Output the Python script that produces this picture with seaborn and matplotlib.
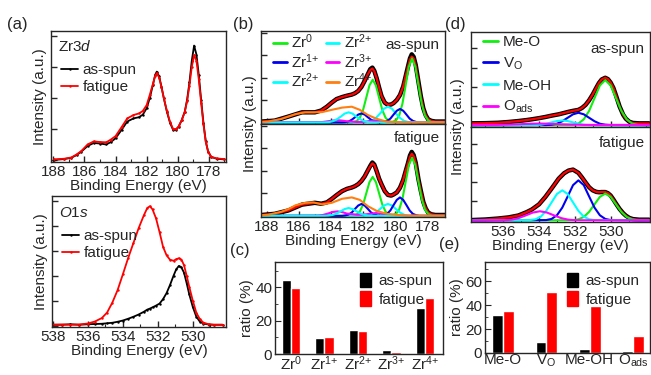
import matplotlib
matplotlib.use('Agg')
import matplotlib.pyplot as plt
from matplotlib.lines import Line2D
from matplotlib.patches import Patch
from matplotlib.ticker import MultipleLocator, FixedLocator
import seaborn as sns
import pandas as pd

sns.set_style('ticks')
plt.rcParams['font.family'] = ['Liberation Sans', 'DejaVu Sans']
plt.rcParams['mathtext.fontset'] = 'custom'
plt.rcParams['mathtext.rm'] = 'Liberation Sans'
plt.rcParams['mathtext.it'] = 'Liberation Sans:italic'
plt.rcParams['font.size'] = 11
plt.rcParams['axes.linewidth'] = 1.0

GREEN = '#11ee11'
BLUE = '#0000ee'
CYAN = '#00ffff'
MAGENTA = '#ff00ff'
ORANGE = '#ff7f10'

# ---- (a) top: Zr 3d raw spectra
zr_e = [187.95, 187.3, 186.85, 186.5, 186.2, 185.8, 185.4, 185.0, 184.6, 184.3,
        184.0, 183.6, 183.25, 182.85, 182.5, 182.25, 182.0, 181.8, 181.6, 181.45,
        181.35, 181.2, 181.05, 180.9, 180.7, 180.5, 180.3, 180.1, 179.95, 179.75,
        179.55, 179.4, 179.25, 179.1, 178.95, 178.8, 178.65, 178.5, 178.35, 178.2,
        178.05, 177.85, 177.5, 177.05]
zr_asspun = [0.0, 0.03, 0.07, 0.16, 0.27, 0.45, 0.55, 0.53, 0.5, 0.58,
             0.7, 0.98, 1.24, 1.34, 1.38, 1.46, 1.67, 2.0, 2.42, 2.75,
             2.85, 2.7, 2.37, 2.0, 1.56, 1.2, 0.97, 0.98, 1.07, 1.28,
             1.56, 1.95, 2.5, 3.2, 3.69, 3.4, 2.74, 1.95, 1.2, 0.6,
             0.27, 0.1, 0.04, 0.02]
zr_fatigue = [0.02, 0.04, 0.08, 0.18, 0.29, 0.5, 0.6, 0.58, 0.57, 0.66,
              0.77, 1.07, 1.34, 1.45, 1.5, 1.58, 1.77, 2.1, 2.45, 2.72,
              2.8, 2.66, 2.35, 2.0, 1.58, 1.23, 1.0, 1.0, 1.08, 1.28,
              1.55, 1.9, 2.4, 3.0, 3.39, 3.2, 2.6, 1.85, 1.15, 0.58,
              0.27, 0.1, 0.05, 0.03]

# ---- (a) bottom: O 1s raw spectra
o_e = [538.1, 537.5, 537.0, 536.5, 536.0, 535.6, 535.2, 534.9, 534.6, 534.3,
       534.0, 533.7, 533.4, 533.1, 532.8, 532.6, 532.45, 532.3, 532.1, 531.9,
       531.7, 531.5, 531.3, 531.1, 530.95, 530.8, 530.65, 530.5, 530.35, 530.2,
       530.0, 529.8, 529.6, 529.4, 529.1, 528.8, 528.3]
o_asspun = [0.03, 0.03, 0.05, 0.03, 0.05, 0.06, 0.07, 0.09, 0.11, 0.15,
            0.2, 0.27, 0.35, 0.44, 0.55, 0.64, 0.68, 0.73, 0.8, 0.88,
            1.06, 1.3, 1.63, 2.0, 2.25, 2.39, 2.33, 2.12, 1.7, 1.25,
            0.75, 0.36, 0.16, 0.08, 0.04, 0.03, 0.03]
o_fatigue = [0.03, 0.04, 0.03, 0.04, 0.08, 0.16, 0.3, 0.52, 0.92, 1.42,
             2.05, 2.7, 3.3, 3.9, 4.42, 4.72, 4.79, 4.66, 4.3, 3.75,
             3.16, 2.82, 2.64, 2.6, 2.66, 2.7, 2.65, 2.42, 2.0, 1.55,
             1.0, 0.52, 0.26, 0.12, 0.05, 0.03, 0.03]

# ---- (b) Zr 3d fits: data / envelope
zfit_e = [188.3, 187.5, 186.65, 185.8, 185.0, 184.6, 184.25, 183.95, 183.65, 183.3,
          183.0, 182.7, 182.5, 182.3, 182.1, 181.9, 181.7, 181.55, 181.42, 181.3,
          181.15, 181.0, 180.85, 180.65, 180.45, 180.25, 180.1, 179.9, 179.7, 179.5,
          179.35, 179.2, 179.08, 178.97, 178.85, 178.72, 178.55, 178.4, 178.25, 178.1,
          177.95, 177.75, 177.5, 176.9]
zfit_as_data = [0.04, 0.08, 0.26, 0.45, 0.45, 0.53, 0.7, 0.88, 1.04, 1.13,
                1.19, 1.24, 1.3, 1.4, 1.58, 1.85, 2.15, 2.37, 2.44, 2.3,
                1.96, 1.55, 1.17, 0.88, 0.78, 0.8, 0.86, 1.0, 1.22, 1.6,
                2.05, 2.5, 2.85, 3.03, 2.92, 2.55, 1.8, 1.15, 0.63, 0.32,
                0.14, 0.07, 0.04, 0.04]
zfit_as_env = [0.04, 0.08, 0.26, 0.45, 0.45, 0.53, 0.7, 0.88, 1.04, 1.13,
               1.19, 1.24, 1.3, 1.4, 1.58, 1.85, 2.15, 2.33, 2.4, 2.28,
               1.96, 1.55, 1.17, 0.88, 0.78, 0.8, 0.86, 1.0, 1.22, 1.6,
               2.05, 2.48, 2.8, 2.93, 2.85, 2.52, 1.8, 1.15, 0.63, 0.32,
               0.14, 0.07, 0.04, 0.04]
zfit_fa_data = [0.04, 0.09, 0.24, 0.5, 0.58, 0.54, 0.6, 0.75, 0.92, 1.1,
                1.2, 1.26, 1.32, 1.41, 1.55, 1.75, 2.02, 2.22, 2.37, 2.28,
                1.98, 1.65, 1.4, 1.1, 0.93, 0.9, 0.95, 1.04, 1.25, 1.6,
                1.98, 2.35, 2.68, 2.84, 2.7, 2.35, 1.62, 1.1, 0.62, 0.33,
                0.15, 0.07, 0.04, 0.04]
zfit_fa_env = [0.04, 0.09, 0.24, 0.5, 0.58, 0.54, 0.6, 0.75, 0.92, 1.1,
               1.2, 1.26, 1.32, 1.41, 1.55, 1.75, 2.02, 2.2, 2.33, 2.26,
               1.98, 1.65, 1.4, 1.1, 0.93, 0.9, 0.95, 1.04, 1.25, 1.6,
               1.98, 2.33, 2.62, 2.76, 2.65, 2.33, 1.62, 1.1, 0.62, 0.33,
               0.15, 0.07, 0.04, 0.04]

# ---- (b) Zr 3d fit components
zr0_e = [176.9, 177.7, 177.95, 178.15, 178.35, 178.55, 178.75, 178.95, 179.15, 179.35,
         179.55, 179.75, 179.95, 180.2, 180.4, 180.6, 180.8, 181.0, 181.2, 181.4,
         181.6, 181.8, 182.0, 182.2, 182.4, 182.7, 188.35]
zr0_as = [0, 0, 0.09, 0.31, 0.83, 1.65, 2.48, 2.85, 2.48, 1.65,
          0.83, 0.31, 0.09, 0.02, 0.06, 0.21, 0.55, 1.1, 1.65, 1.9,
          1.65, 1.1, 0.55, 0.21, 0.06, 0, 0]
zr0_fa = [0, 0, 0.09, 0.28, 0.75, 1.5, 2.25, 2.59, 2.25, 1.5,
          0.75, 0.28, 0.09, 0.02, 0.06, 0.19, 0.5, 1.0, 1.5, 1.73,
          1.5, 1.0, 0.5, 0.19, 0.06, 0, 0]
zr1_e = [176.9, 178.5, 178.7, 178.9, 179.1, 179.3, 179.5, 179.7, 179.9, 180.1,
         180.3, 180.5, 180.7, 180.9, 181.1, 181.3, 181.5, 181.7, 181.9, 182.1,
         182.3, 182.5, 182.7, 182.9, 183.1, 183.3, 188.35]
zr1_as = [0, 0, 0.02, 0.07, 0.17, 0.35, 0.52, 0.6, 0.52, 0.35,
          0.17, 0.07, 0.02, 0.01, 0.01, 0.04, 0.12, 0.23, 0.35, 0.4,
          0.35, 0.23, 0.12, 0.04, 0.01, 0, 0]
zr1_fa = [0, 0, 0.03, 0.09, 0.24, 0.48, 0.71, 0.82, 0.71, 0.48,
          0.24, 0.09, 0.03, 0.01, 0.02, 0.06, 0.15, 0.31, 0.46, 0.53,
          0.46, 0.31, 0.15, 0.06, 0.02, 0, 0]
zr2a_e = [176.9, 178.95, 179.2, 179.45, 179.7, 179.95, 180.2, 180.45, 180.7, 180.95,
          181.2, 181.45, 181.7, 181.95, 188.35]
zr2a_as = [0, 0, 0.02, 0.07, 0.2, 0.39, 0.61, 0.7, 0.61, 0.39, 0.2, 0.07, 0.02, 0, 0]
zr2a_fa = [0, 0, 0.01, 0.05, 0.15, 0.3, 0.46, 0.53, 0.46, 0.3, 0.15, 0.05, 0.01, 0, 0]
zr2b_e = [176.9, 181.4, 181.65, 181.9, 182.15, 182.4, 182.65, 182.9, 183.15, 183.4,
          183.65, 183.9, 184.15, 184.4, 188.35]
zr2b_as = [0, 0, 0.01, 0.05, 0.13, 0.25, 0.39, 0.45, 0.39, 0.25, 0.13, 0.05, 0.01, 0, 0]
zr2b_fa = [0, 0, 0.01, 0.04, 0.1, 0.2, 0.3, 0.35, 0.3, 0.2, 0.1, 0.04, 0.01, 0, 0]
zr3_e = [176.9, 180.0, 180.3, 180.6, 180.9, 181.2, 181.5, 181.8, 182.1, 182.4,
         182.7, 183.0, 183.3, 183.6, 183.9, 184.2, 184.5, 184.8, 188.35]
zr3_as = [0, 0.01, 0.02, 0.04, 0.07, 0.08, 0.07, 0.04, 0.02, 0.02,
          0.04, 0.05, 0.08, 0.1, 0.08, 0.05, 0.02, 0.01, 0]
zr3_fa = [0, 0.01, 0.03, 0.06, 0.1, 0.12, 0.1, 0.07, 0.05, 0.05,
          0.08, 0.1, 0.17, 0.2, 0.17, 0.1, 0.04, 0.01, 0]
zr4_e = [176.9, 179.3, 179.8, 180.5, 181.15, 181.7, 182.2, 182.7, 183.3, 183.95,
         184.55, 185.1, 185.6, 186.2, 186.65, 187.1, 187.9, 188.35]
zr4_as = [0, 0, 0.01, 0.03, 0.16, 0.33, 0.56, 0.7, 0.66, 0.56,
          0.46, 0.45, 0.45, 0.37, 0.26, 0.15, 0.04, 0.02]
zr4_fa = [0, 0.01, 0.04, 0.09, 0.22, 0.43, 0.71, 0.82, 0.76, 0.58,
          0.51, 0.6, 0.58, 0.47, 0.3, 0.18, 0.05, 0.03]

# ---- (d) O 1s fits: data / envelope
ofit_e = [537.8, 537.0, 536.3, 535.7, 535.15, 534.7, 534.4, 534.0, 533.65, 533.3,
          532.9, 532.6, 532.35, 532.1, 531.8, 531.6, 531.4, 531.2, 531.0, 530.8,
          530.65, 530.5, 530.3, 530.15, 530.0, 529.85, 529.7, 529.5, 529.3, 529.15,
          528.95, 528.75, 528.4, 527.85]
ofit_as = [0.1, 0.11, 0.13, 0.17, 0.22, 0.27, 0.31, 0.37, 0.43, 0.5,
           0.57, 0.64, 0.7, 0.75, 0.8, 0.9, 1.06, 1.3, 1.6, 1.95,
           2.2, 2.38, 2.47, 2.4, 2.22, 1.95, 1.55, 0.98, 0.55, 0.34,
           0.18, 0.12, 0.1, 0.1]
ofit_fa = [0.02, 0.05, 0.1, 0.16, 0.26, 0.43, 0.57, 0.84, 1.22, 1.66,
           2.18, 2.46, 2.6, 2.65, 2.48, 2.24, 1.98, 1.73, 1.57, 1.49,
           1.47, 1.48, 1.48, 1.42, 1.3, 1.1, 0.88, 0.6, 0.38, 0.25,
           0.13, 0.07, 0.04, 0.04]

# ---- (d) O 1s fit components
meo_e = [527.85, 528.5, 528.8, 529.1, 529.4, 529.7, 530.0, 530.3, 530.6, 530.9,
         531.2, 531.5, 531.8, 532.1, 537.8]
meo_as = [0, 0.02, 0.09, 0.31, 0.75, 1.41, 2.07, 2.35, 2.07, 1.41, 0.75, 0.31, 0.09, 0.02, 0]
meo_fa = [0, 0.01, 0.06, 0.18, 0.45, 0.84, 1.23, 1.4, 1.23, 0.84, 0.45, 0.18, 0.06, 0.01, 0]
vo_e = [527.85, 530.0, 530.3, 530.6, 530.9, 531.2, 531.5, 531.8, 532.1, 532.4,
        532.7, 533.0, 533.3, 533.6, 537.8]
vo_as = [0, 0.01, 0.03, 0.08, 0.21, 0.39, 0.57, 0.65, 0.57, 0.39, 0.21, 0.08, 0.03, 0.01, 0]
vo_fa = [0, 0.02, 0.08, 0.27, 0.67, 1.25, 1.84, 2.09, 1.84, 1.25, 0.67, 0.27, 0.08, 0.02, 0]
meoh_e = [527.85, 530.9, 531.2, 531.5, 531.8, 532.1, 532.4, 532.7, 533.0, 533.3,
          533.6, 533.9, 534.2, 534.5, 537.8]
meoh_as = [0, 0, 0.01, 0.03, 0.08, 0.15, 0.22, 0.25, 0.22, 0.15, 0.08, 0.03, 0.01, 0, 0]
meoh_fa = [0, 0.02, 0.06, 0.2, 0.5, 0.94, 1.38, 1.57, 1.38, 0.94, 0.5, 0.2, 0.06, 0.02, 0]
oads_e = [527.85, 531.55, 531.95, 532.35, 532.75, 533.15, 533.55, 533.95, 534.35, 534.75,
          535.15, 535.55, 535.95, 536.35, 537.8]
oads_as = [0.02, 0.02, 0.03, 0.04, 0.05, 0.07, 0.08, 0.09, 0.08, 0.07, 0.05, 0.04, 0.03, 0.02, 0.02]
oads_fa = [0, 0.01, 0.01, 0.04, 0.12, 0.26, 0.41, 0.48, 0.41, 0.26, 0.12, 0.04, 0.01, 0, 0]

# ---- (c) / (e) ratios
zr_states = ['Zr$^{0}$', 'Zr$^{1{+}}$', 'Zr$^{2{+}}$', 'Zr$^{3{+}}$', 'Zr$^{4{+}}$']
zr_ratio_as = [44.5, 9.5, 14.4, 2.6, 27.5]
zr_ratio_fa = [39.6, 10.3, 13.8, 1.4, 33.4]
o_states = ['Me-O', 'V$_{\\mathrm{O}}$', 'Me-OH', 'O$_{\\mathrm{ads}}$']
o_ratio_as = [31.9, 8.9, 3.6, 1.9]
o_ratio_fa = [35.3, 50.6, 38.9, 13.9]

W, H = 651, 375
fig = plt.figure(figsize=(W / 100, H / 100), dpi=100)


def box(l, t, r, b):
    return fig.add_axes([l / W, 1 - b / H, (r - l) / W, (b - t) / H])


def curve(ax, e, i, color, lw=1.3, **kw):
    sns.lineplot(x=e, y=i, ax=ax, color=color, lw=lw, sort=False,
                 estimator=None, legend=False, **kw)


def spec_axes(ax, xlim, ylim, ticks, show_x=True):
    ax.set_xlim(*xlim)
    ax.set_ylim(*ylim)
    ax.xaxis.set_major_locator(FixedLocator(ticks))
    ax.xaxis.set_minor_locator(MultipleLocator(1))
    ax.yaxis.set_major_locator(MultipleLocator(1))
    ax.tick_params(which='both', direction='in', top=False, right=False,
                   labelleft=False, labelbottom=show_x, labelsize=11, pad=2)
    ax.tick_params(which='major', length=4, width=1)
    ax.tick_params(which='minor', length=2, width=0.8)
    ax.set_xlabel('')
    ax.set_ylabel('')


zr_ticks = [188, 186, 184, 182, 180, 178]
dots = dict(marker='.', markersize=3.5, markeredgewidth=0)
raw_handles = [Line2D([], [], color='black', lw=1.3, **dots),
               Line2D([], [], color='red', lw=1.3, **dots)]

# (a) top
ax = box(51, 31, 226, 162)
curve(ax, zr_e, zr_asspun, 'black', **dots)
curve(ax, zr_e, zr_fatigue, 'red', **dots)
spec_axes(ax, (188.15, 176.9), (-0.065, 4.16), zr_ticks)
ax.set_xlabel('Binding Energy (eV)', labelpad=0)
ax.set_ylabel('Intensity (a.u.)', labelpad=3)
ax.text(0.04, 0.94, 'Zr$\\mathit{3d}$', transform=ax.transAxes, ha='left', va='top', fontsize=11)
ax.legend(raw_handles, ['as-spun', 'fatigue'], loc='upper left', bbox_to_anchor=(-0.02, 0.86),
          frameon=False, handlelength=1.1, handletextpad=0.3, labelspacing=0.2, fontsize=11)

# (a) bottom
ax = box(52, 196, 226, 327)
curve(ax, o_e, o_asspun, 'black', **dots)
curve(ax, o_e, o_fatigue, 'red', **dots)
spec_axes(ax, (538.05, 528.1), (-0.06, 5.2), [538, 536, 534, 532, 530])
ax.set_xlabel('Binding Energy (eV)', labelpad=0)
ax.set_ylabel('Intensity (a.u.)', labelpad=3)
ax.text(0.04, 0.92, '$\\mathit{O1s}$', transform=ax.transAxes, ha='left', va='top', fontsize=11)
ax.legend(raw_handles, ['as-spun', 'fatigue'], loc='upper left', bbox_to_anchor=(-0.02, 0.85),
          frameon=False, handlelength=1.1, handletextpad=0.3, labelspacing=0.2, fontsize=11)

# (b) Zr 3d fits
zr_comp = [(zr0_e, zr0_as, zr0_fa, GREEN), (zr2a_e, zr2a_as, zr2a_fa, CYAN),
           (zr1_e, zr1_as, zr1_fa, BLUE), (zr3_e, zr3_as, zr3_fa, MAGENTA),
           (zr2b_e, zr2b_as, zr2b_fa, CYAN), (zr4_e, zr4_as, zr4_fa, ORANGE)]
bt = box(261, 31, 445, 124)
bb = box(261, 124, 445, 217)
for ax, data, env, k, tag in [(bt, zfit_as_data, zfit_as_env, 1, 'as-spun'),
                              (bb, zfit_fa_data, zfit_fa_env, 2, 'fatigue')]:
    curve(ax, zfit_e, data, 'black', lw=3.2)
    curve(ax, zfit_e, env, 'red', lw=1.6)
    for comp in zr_comp:
        curve(ax, comp[0], comp[k], comp[3], lw=1.5)
    ax.text(0.97, 0.93, tag, transform=ax.transAxes, ha='right', va='top', fontsize=11)
spec_axes(bt, (188.35, 176.9), (-0.07, 4.07), zr_ticks, show_x=False)
spec_axes(bb, (188.35, 176.9), (-0.05, 4.08), zr_ticks)
bb.set_xlabel('Binding Energy (eV)', labelpad=0)
zr_handles = [Line2D([], [], color=c, lw=2) for c in [GREEN, BLUE, CYAN, CYAN, MAGENTA, ORANGE]]
zr_labels = ['Zr$^{0}$', 'Zr$^{1{+}}$', 'Zr$^{2{+}}$', 'Zr$^{2{+}}$', 'Zr$^{3{+}}$', 'Zr$^{4{+}}$']
bt.legend(zr_handles, zr_labels, ncol=2, loc='upper left', bbox_to_anchor=(-0.01, 1.13),
          frameon=False, handlelength=0.9, handletextpad=0.3, columnspacing=0.4,
          labelspacing=0.05, fontsize=11)
fig.text(250 / W, 1 - 124 / H, 'Intensity (a.u.)', rotation=90, ha='center', va='center', fontsize=11)

# (d) O 1s fits
o_comp = [(meo_e, meo_as, meo_fa, GREEN), (vo_e, vo_as, vo_fa, BLUE),
          (meoh_e, meoh_as, meoh_fa, CYAN), (oads_e, oads_as, oads_fa, MAGENTA)]
dt = box(471, 32, 650, 127)
db = box(471, 127, 650, 222)
for ax, data, k, tag in [(dt, ofit_as, 1, 'as-spun'), (db, ofit_fa, 2, 'fatigue')]:
    curve(ax, ofit_e, data, 'black', lw=3.2)
    curve(ax, ofit_e, data, 'red', lw=1.6)
    for comp in o_comp:
        curve(ax, comp[0], comp[k], comp[3], lw=1.5)
    ax.text(0.97, 0.9, tag, transform=ax.transAxes, ha='right', va='top', fontsize=11)
spec_axes(dt, (537.8, 527.8), (-0.09, 4.85), [536, 534, 532, 530], show_x=False)
spec_axes(db, (537.8, 527.8), (-0.08, 4.87), [536, 534, 532, 530])
db.set_xlabel('Binding Energy (eV)', labelpad=0)
o_handles = [Line2D([], [], color=c, lw=2) for c in [GREEN, BLUE, CYAN, MAGENTA]]
dt.legend(o_handles, ['Me-O', 'V$_{\\mathrm{O}}$', 'Me-OH', 'O$_{\\mathrm{ads}}$'],
          loc='upper left', bbox_to_anchor=(-0.01, 1.11), frameon=False, handlelength=1.0,
          handletextpad=0.3, labelspacing=0.42, fontsize=11)
fig.text(458 / W, 1 - 127 / H, 'Intensity (a.u.)', rotation=90, ha='center', va='center', fontsize=11)

# (c) and (e) bar charts
bar_handles = [Patch(color='black'), Patch(color='red')]


def ratio_bars(ax, states, r_as, r_fa, xlim, ylim, major, width):
    df = pd.DataFrame({'state': states * 2, 'ratio': r_as + r_fa,
                       'sample': ['as-spun'] * len(states) + ['fatigue'] * len(states)})
    sns.barplot(data=df, x='state', y='ratio', hue='sample', palette=['black', 'red'],
                width=width, saturation=1, errorbar=None, legend=False, ax=ax)
    ax.set_xlim(*xlim)
    ax.set_ylim(*ylim)
    ax.yaxis.set_major_locator(MultipleLocator(major))
    ax.yaxis.set_minor_locator(MultipleLocator(major / 2))
    ax.tick_params(axis='y', which='both', direction='in', labelsize=11, pad=2)
    ax.tick_params(axis='y', which='major', length=4)
    ax.tick_params(axis='y', which='minor', length=2)
    ax.tick_params(axis='x', length=0, labelsize=11, pad=0)
    ax.set_xlabel('')
    ax.set_ylabel('ratio (%)', fontsize=11, labelpad=1)
    for s in ax.spines.values():
        s.set_visible(True)
    ax.legend(bar_handles, ['as-spun', 'fatigue'], loc='upper right', frameon=False,
              handlelength=0.7, handleheight=1.1, handletextpad=0.5, labelspacing=0.2,
              borderaxespad=0.3, fontsize=11)


ratio_bars(box(275, 262, 443, 354), zr_states, zr_ratio_as, zr_ratio_fa,
           (-0.47, 4.54), (0, 55.3), 20, 0.55)
ratio_bars(box(485, 262, 650, 353), o_states, o_ratio_as, o_ratio_fa,
           (-0.42, 3.39), (0, 76), 20, 0.5)

for lab, x, y in [('(a)', 17, 25), ('(b)', 243, 25), ('(c)', 240, 251),
                  ('(d)', 455, 25), ('(e)', 449, 245)]:
    fig.text(x / W, 1 - y / H, lab, ha='center', va='center', fontsize=12)

fig.savefig('out.png', dpi=100)
